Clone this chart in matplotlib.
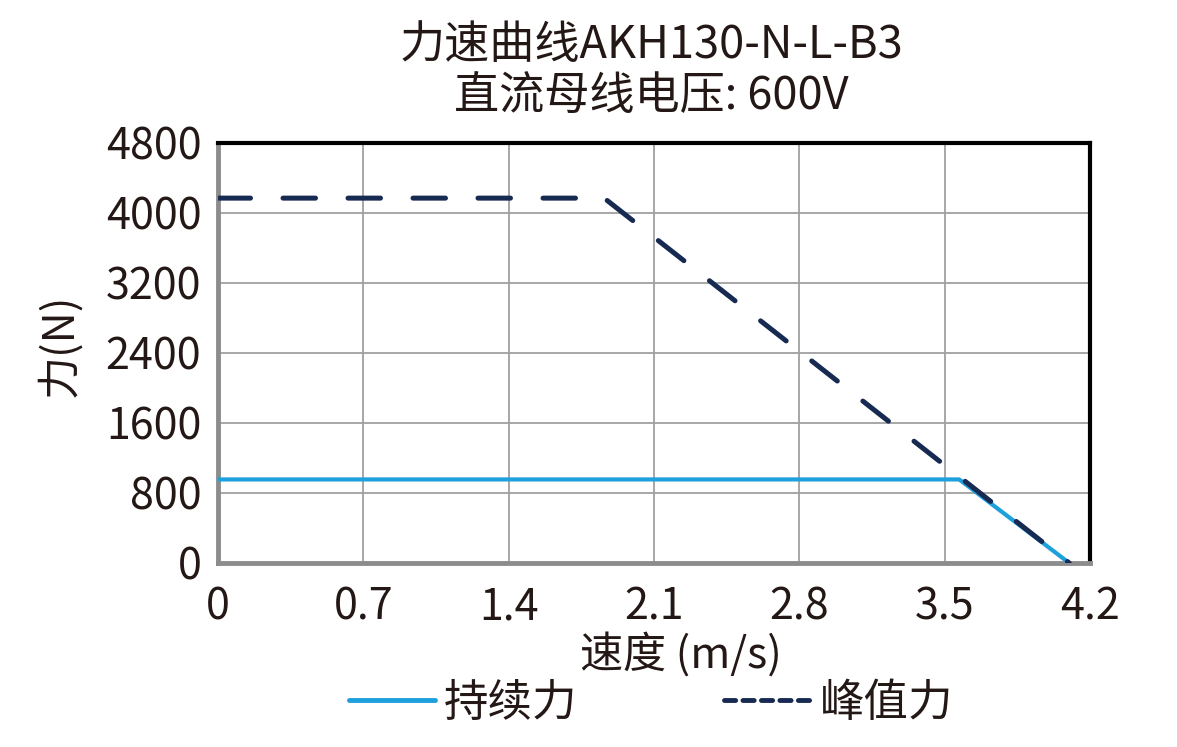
import matplotlib
matplotlib.use("Agg")
import matplotlib.pyplot as plt
from matplotlib.lines import Line2D

plt.rcParams['font.family'] = ['Noto Sans CJK SC', 'DejaVu Sans']

title_lines = ["力速曲线AKH130-N-L-B3", "直流母线电压: 600V"]
x_label = "速度 (m/s)"
y_label = "力(N)"
x_ticks = [0, 0.7, 1.4, 2.1, 2.8, 3.5, 4.2]
x_tick_labels = ["0", "0.7", "1.4", "2.1", "2.8", "3.5", "4.2"]
y_ticks = [0, 800, 1600, 2400, 3200, 4000, 4800]

cont_speed = [0, 3.57, 4.1]
cont_force = [955, 955, 0]
peak_speed = [0, 1.86, 4.1]
peak_force = [4170, 4170, 0]
series_names = ["持续力", "峰值力"]

blue = "#1EA0DD"
navy = "#172A52"
text_c = "#231815"
fs = 31

fig = plt.figure(figsize=(11.77, 7.47), dpi=100)
ax = fig.add_axes([218/1177, 1-563/747, (1090-218)/1177, (563-143)/747])

ax.plot(cont_speed, cont_force, color=blue, lw=3.0, solid_capstyle='butt', zorder=3)
ax.plot(peak_speed, peak_force, color=navy, lw=3.6, dashes=(6.5, 6.5),
        dash_capstyle='round', zorder=4)

ax.set_xlim(0, 4.2)
ax.set_ylim(0, 4800)
ax.set_xticks(x_ticks)
ax.set_xticklabels(x_tick_labels)
ax.set_yticks(y_ticks)
ax.grid(True, color="#A0A0A0", lw=1.3)
ax.set_axisbelow(True)
ax.tick_params(length=0, labelsize=fs, labelcolor=text_c)
ax.tick_params(axis='x', pad=16)
ax.tick_params(axis='y', pad=12)

for s in ['top', 'right']:
    ax.spines[s].set_color('black')
    ax.spines[s].set_linewidth(3)
for s in ['left', 'bottom']:
    ax.spines[s].set_color('#8C8C8C')
    ax.spines[s].set_linewidth(3.5)

fig.text(651/1177, 1-45/747, title_lines[0], ha='center', va='center', fontsize=32.5, color=text_c)
fig.text(651/1177, 1-97/747, title_lines[1], ha='center', va='center', fontsize=32.5, color=text_c)
fig.text(681/1177, 1-655/747, x_label, ha='center', va='center', fontsize=fs, color=text_c)
fig.text(60/1177, 1-345/747, y_label, ha='center', va='center', rotation=90, fontsize=fs, color=text_c)

handles = [Line2D([], [], color=blue, lw=3.5, solid_capstyle='round'),
           Line2D([], [], color=navy, lw=3.5, dashes=(2.3, 1.5), dash_capstyle='round')]
leg = fig.legend(handles, series_names, loc='center', bbox_to_anchor=(651/1177, 1-703/747),
                 ncol=2, frameon=False, fontsize=32, handlelength=1.95, handletextpad=0.2,
                 columnspacing=3.3, labelcolor=text_c)

fig.savefig("out.png", dpi=100)
